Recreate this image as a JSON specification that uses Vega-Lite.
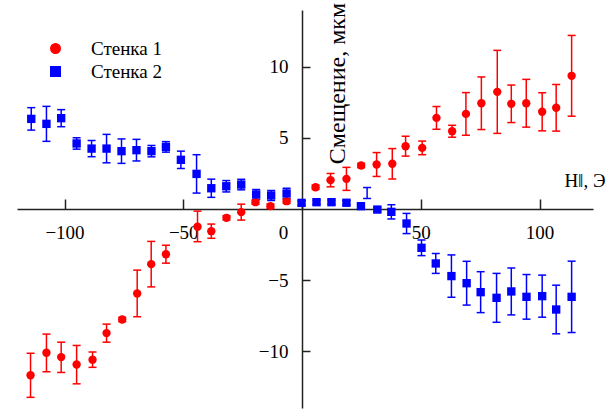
{
  "$schema": "https://vega.github.io/schema/vega-lite/v6.json",
  "width": 576,
  "height": 398,
  "autosize": {"type": "none"},
  "padding": {"left": 17, "top": 10, "right": 22, "bottom": 2},
  "background": "white",
  "config": {
    "view": {"stroke": null},
    "font": "Liberation Serif, Times New Roman, serif",
    "axis": {
      "grid": false,
      "domainColor": "#222222",
      "domainWidth": 1.5,
      "tickColor": "#222222",
      "tickWidth": 1.5,
      "labelFont": "Liberation Serif, Times New Roman, serif",
      "labelFontSize": 19,
      "labelColor": "black",
      "titleFont": "Liberation Serif, Times New Roman, serif",
      "titleFontSize": 19,
      "titleFontWeight": "normal",
      "titleColor": "black"
    },
    "legend": {
      "labelFont": "Liberation Serif, Times New Roman, serif"
    }
  },
  "data": {
    "values": [
      {"wall": "Стенка 1", "H": -114.3, "d": -11.7, "lo": -13.25, "hi": -10.15},
      {"wall": "Стенка 1", "H": -107.6, "d": -10.11, "lo": -11.45, "hi": -8.8},
      {"wall": "Стенка 1", "H": -101.4, "d": -10.42, "lo": -11.5, "hi": -9.37},
      {"wall": "Стенка 1", "H": -94.9, "d": -10.94, "lo": -12.3, "hi": -9.6},
      {"wall": "Стенка 1", "H": -88.2, "d": -10.6, "lo": -11.14, "hi": -10.06},
      {"wall": "Стенка 1", "H": -82.3, "d": -8.73, "lo": -9.37, "hi": -8.1},
      {"wall": "Стенка 1", "H": -75.7, "d": -7.77, "lo": -7.92, "hi": -7.62},
      {"wall": "Стенка 1", "H": -69.4, "d": -5.94, "lo": -7.58, "hi": -4.3},
      {"wall": "Стенка 1", "H": -63.5, "d": -3.88, "lo": -5.48, "hi": -2.28},
      {"wall": "Стенка 1", "H": -57.3, "d": -3.18, "lo": -3.81, "hi": -2.55},
      {"wall": "Стенка 1", "H": -44.0, "d": -1.25, "lo": -2.3, "hi": -0.15},
      {"wall": "Стенка 1", "H": -38.2, "d": -1.56, "lo": -2.06, "hi": -1.06},
      {"wall": "Стенка 1", "H": -31.8, "d": -0.62, "lo": -0.77, "hi": -0.47},
      {"wall": "Стенка 1", "H": -25.6, "d": -0.22, "lo": -0.78, "hi": 0.34},
      {"wall": "Стенка 1", "H": -19.6, "d": 0.48, "lo": 0.33, "hi": 0.63},
      {"wall": "Стенка 1", "H": -13.3, "d": 0.2, "lo": 0.05, "hi": 0.35},
      {"wall": "Стенка 1", "H": -6.5, "d": 0.55, "lo": 0.4, "hi": 0.7},
      {"wall": "Стенка 1", "H": 5.7, "d": 1.53, "lo": 1.38, "hi": 1.68},
      {"wall": "Стенка 1", "H": 12.0, "d": 2.03, "lo": 1.56, "hi": 2.5},
      {"wall": "Стенка 1", "H": 18.7, "d": 2.12, "lo": 1.31, "hi": 2.93},
      {"wall": "Стенка 1", "H": 24.9, "d": 3.06, "lo": 2.91, "hi": 3.21},
      {"wall": "Стенка 1", "H": 31.4, "d": 3.13, "lo": 2.29, "hi": 3.97},
      {"wall": "Стенка 1", "H": 38.0, "d": 3.18, "lo": 2.11, "hi": 4.25},
      {"wall": "Стенка 1", "H": 43.6, "d": 4.42, "lo": 3.72, "hi": 5.12},
      {"wall": "Стенка 1", "H": 50.6, "d": 4.3, "lo": 3.82, "hi": 4.78},
      {"wall": "Стенка 1", "H": 56.6, "d": 6.41, "lo": 5.61, "hi": 7.21},
      {"wall": "Стенка 1", "H": 63.2, "d": 5.47, "lo": 5.05, "hi": 5.89},
      {"wall": "Стенка 1", "H": 69.0, "d": 6.69, "lo": 5.19, "hi": 8.19},
      {"wall": "Стенка 1", "H": 75.5, "d": 7.44, "lo": 5.59, "hi": 9.29},
      {"wall": "Стенка 1", "H": 82.2, "d": 8.24, "lo": 5.32, "hi": 11.16},
      {"wall": "Стенка 1", "H": 88.1, "d": 7.4, "lo": 6.08, "hi": 8.72},
      {"wall": "Стенка 1", "H": 94.4, "d": 7.44, "lo": 5.76, "hi": 9.12},
      {"wall": "Стенка 1", "H": 101.1, "d": 6.84, "lo": 5.5, "hi": 8.18},
      {"wall": "Стенка 1", "H": 107.0, "d": 7.12, "lo": 5.48, "hi": 8.76},
      {"wall": "Стенка 1", "H": 113.5, "d": 9.37, "lo": 6.53, "hi": 12.21},
      {"wall": "Стенка 2", "H": -114.0, "d": 6.34, "lo": 5.55, "hi": 7.13},
      {"wall": "Стенка 2", "H": -107.6, "d": 5.99, "lo": 4.76, "hi": 7.22},
      {"wall": "Стенка 2", "H": -101.4, "d": 6.39, "lo": 5.79, "hi": 6.99},
      {"wall": "Стенка 2", "H": -94.9, "d": 4.61, "lo": 4.21, "hi": 5.01},
      {"wall": "Стенка 2", "H": -88.6, "d": 4.25, "lo": 3.68, "hi": 4.82},
      {"wall": "Стенка 2", "H": -82.3, "d": 4.25, "lo": 3.25, "hi": 5.25},
      {"wall": "Стенка 2", "H": -76.0, "d": 4.07, "lo": 3.21, "hi": 4.93},
      {"wall": "Стенка 2", "H": -69.7, "d": 4.14, "lo": 3.38, "hi": 4.9},
      {"wall": "Стенка 2", "H": -63.4, "d": 4.07, "lo": 3.67, "hi": 4.47},
      {"wall": "Стенка 2", "H": -57.3, "d": 4.37, "lo": 4.0, "hi": 4.74},
      {"wall": "Стенка 2", "H": -51.0, "d": 3.46, "lo": 2.85, "hi": 4.07},
      {"wall": "Стенка 2", "H": -44.4, "d": 2.47, "lo": 1.12, "hi": 3.82},
      {"wall": "Стенка 2", "H": -38.2, "d": 1.46, "lo": 0.82, "hi": 2.1},
      {"wall": "Стенка 2", "H": -31.9, "d": 1.6, "lo": 1.2, "hi": 2.0},
      {"wall": "Стенка 2", "H": -25.6, "d": 1.72, "lo": 1.35, "hi": 2.09},
      {"wall": "Стенка 2", "H": -19.3, "d": 1.02, "lo": 0.67, "hi": 1.37},
      {"wall": "Стенка 2", "H": -13.0, "d": 0.95, "lo": 0.6, "hi": 1.3},
      {"wall": "Стенка 2", "H": -6.5, "d": 1.09, "lo": 0.72, "hi": 1.46},
      {"wall": "Стенка 2", "H": -0.2, "d": 0.43, "lo": 0.28, "hi": 0.58},
      {"wall": "Стенка 2", "H": 6.1, "d": 0.48, "lo": 0.33, "hi": 0.63},
      {"wall": "Стенка 2", "H": 12.4, "d": 0.48, "lo": 0.33, "hi": 0.63},
      {"wall": "Стенка 2", "H": 18.7, "d": 0.44, "lo": 0.29, "hi": 0.59},
      {"wall": "Стенка 2", "H": 24.8, "d": 0.2, "lo": 0.05, "hi": 0.35},
      {"wall": "Стенка 2", "H": 27.4, "d": null, "lo": 0.74, "hi": 1.51},
      {"wall": "Стенка 2", "H": 31.7, "d": -0.04, "lo": -0.19, "hi": 0.11},
      {"wall": "Стенка 2", "H": 37.6, "d": -0.2, "lo": -0.7, "hi": 0.3},
      {"wall": "Стенка 2", "H": 44.0, "d": -1.02, "lo": -1.73, "hi": -0.31},
      {"wall": "Стенка 2", "H": 50.3, "d": -2.73, "lo": -3.28, "hi": -2.18},
      {"wall": "Стенка 2", "H": 56.3, "d": -3.83, "lo": -4.53, "hi": -3.13},
      {"wall": "Стенка 2", "H": 62.9, "d": -4.72, "lo": -6.21, "hi": -3.23},
      {"wall": "Стенка 2", "H": 69.3, "d": -5.22, "lo": -6.76, "hi": -3.68},
      {"wall": "Стенка 2", "H": 75.2, "d": -5.85, "lo": -7.29, "hi": -4.41},
      {"wall": "Стенка 2", "H": 81.9, "d": -6.25, "lo": -7.97, "hi": -4.53},
      {"wall": "Стенка 2", "H": 88.1, "d": -5.8, "lo": -7.45, "hi": -4.15},
      {"wall": "Стенка 2", "H": 94.5, "d": -6.18, "lo": -7.75, "hi": -4.61},
      {"wall": "Стенка 2", "H": 101.1, "d": -6.13, "lo": -7.61, "hi": -4.65},
      {"wall": "Стенка 2", "H": 107.0, "d": -7.07, "lo": -8.78, "hi": -5.36},
      {"wall": "Стенка 2", "H": 113.5, "d": -6.18, "lo": -8.69, "hi": -3.67}
    ]
  },
  "encoding": {
    "x": {
      "field": "H",
      "type": "quantitative",
      "scale": {"domain": [-120, 122.5], "nice": false, "zero": false},
      "axis": {
        "orient": "bottom",
        "offset": -199,
        "values": [-100, -50, 0, 50, 100],
        "tickSize": -10,
        "labelPadding": 24,
        "labelOffset": {"condition": {"test": "datum.value === 0", "value": -19}, "value": 0},
        "title": "H‖, Э",
        "titleX": 588,
        "titleY": -23,
        "titleAlign": "right",
        "titleBaseline": "alphabetic",
        "titleAngle": 0
      }
    },
    "y": {
      "field": "d",
      "type": "quantitative",
      "scale": {"domain": [-14, 14], "nice": false, "zero": false},
      "axis": {
        "orient": "left",
        "offset": -285,
        "values": [-10, -5, 5, 10],
        "tickSize": -8,
        "labelPadding": 22,
        "title": "Смещение, мкм",
        "titleFontSize": 24,
        "titleX": 42,
        "titleY": 73,
        "titleAngle": -90,
        "titleAlign": "center",
        "titleBaseline": "alphabetic"
      }
    },
    "color": {
      "field": "wall",
      "type": "nominal",
      "scale": {"domain": ["Стенка 1", "Стенка 2"], "range": ["#ff0000", "#0000ff"]},
      "legend": {
        "orient": "none",
        "legendX": 29,
        "legendY": 29,
        "title": null,
        "padding": 0,
        "rowPadding": 3,
        "labelFont": "Liberation Serif, Times New Roman, serif",
        "labelFontSize": 19,
        "labelColor": "black",
        "labelOffset": 26,
        "symbolSize": 90
      }
    }
  },
  "layer": [
    {
      "mark": {"type": "rule", "strokeWidth": 1.5},
      "encoding": {
        "y": {"field": "lo", "type": "quantitative", "title": "Смещение, мкм"},
        "y2": {"field": "hi"}
      }
    },
    {
      "mark": {"type": "tick", "orient": "horizontal", "size": 8, "thickness": 1.5, "opacity": 1},
      "encoding": {"y": {"field": "lo", "type": "quantitative", "title": "Смещение, мкм"}}
    },
    {
      "mark": {"type": "tick", "orient": "horizontal", "size": 8, "thickness": 1.5, "opacity": 1},
      "encoding": {"y": {"field": "hi", "type": "quantitative", "title": "Смещение, мкм"}}
    },
    {
      "mark": {"type": "point", "filled": true, "opacity": 1, "size": 70},
      "encoding": {
        "shape": {
          "field": "wall",
          "type": "nominal",
          "scale": {"domain": ["Стенка 1", "Стенка 2"], "range": ["circle", "square"]}
        }
      }
    }
  ]
}
